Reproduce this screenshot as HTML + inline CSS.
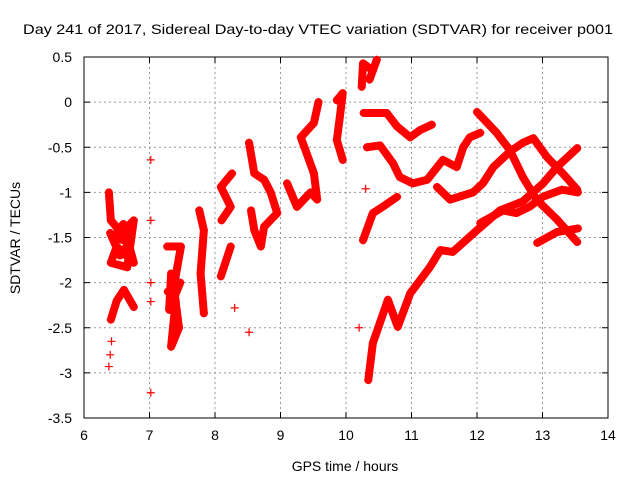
<!DOCTYPE html>
<html><head><meta charset="utf-8"><style>
body{margin:0;background:#fff}
svg{display:block;font-family:"Liberation Sans",sans-serif}
</style></head><body>
<svg id="chart" width="640" height="480" viewBox="0 0 640 480" xmlns="http://www.w3.org/2000/svg">
<rect width="640" height="480" fill="#fff"/>
<text x="318" y="34" font-size="14" text-anchor="middle" textLength="590" lengthAdjust="spacingAndGlyphs">Day 241 of 2017, Sidereal Day-to-day VTEC variation (SDTVAR) for receiver p001</text>
<g id="grid"></g>
<g id="axes"></g>
<g id="marks"></g>
<text x="345" y="471" font-size="14" text-anchor="middle">GPS time / hours</text>
<text transform="translate(20,238) rotate(-90)" font-size="14" text-anchor="middle">SDTVAR / TECUs</text>
</svg>
<script>
const xTicks=[6,7,8,9,10,11,12,13,14];
const yTicks=[0.5,0,-0.5,-1,-1.5,-2,-2.5,-3,-3.5];
const yTickLabels=["0.5","0","-0.5","-1","-1.5","-2","-2.5","-3","-3.5"];
// tracks: times (hours) and values (TECU)
const trA_t=[10.34,10.41,10.64,10.79,10.98,11.28,11.44,11.63,12.0,12.35,12.7,13.01,13.22,13.53];
const trA_v=[-3.08,-2.67,-2.19,-2.49,-2.12,-1.83,-1.64,-1.66,-1.42,-1.2,-1.1,-0.9,-0.72,-0.51];
const trB_t=[12.05,12.4,12.6,12.8,13.0,13.3,13.54];
const trB_v=[-1.34,-1.2,-1.23,-1.16,-1.05,-0.97,-1.0];
const trC_t=[12.0,12.3,12.5,12.7,12.91,13.22,13.53];
const trC_v=[-0.11,-0.34,-0.53,-0.83,-1.08,-1.3,-1.55];
const trD_t=[11.39,11.59,11.94,12.09,12.25,12.5,12.7,12.86,13.07,13.31,13.53];
const trD_v=[-0.94,-1.08,-1.0,-0.9,-0.72,-0.55,-0.45,-0.4,-0.61,-0.79,-0.97];
const trE_t=[12.92,13.22,13.54];
const trE_v=[-1.56,-1.44,-1.4];
const trF_t=[10.27,10.62,10.78,10.98,11.13,11.31];
const trF_v=[-0.12,-0.12,-0.27,-0.39,-0.31,-0.25];
const trG_t=[10.32,10.52,10.72,10.82,11.02,11.24,11.48,11.69,11.79,11.89,12.05];
const trG_v=[-0.5,-0.48,-0.68,-0.83,-0.9,-0.86,-0.64,-0.72,-0.5,-0.39,-0.34];
const trH_t=[10.26,10.41,10.56,10.78];
const trH_v=[-1.53,-1.23,-1.16,-1.05];
const trI_t=[10.24,10.26,10.41,10.47,10.36];
const trI_v=[0.17,0.43,0.35,0.47,0.25];
const trJ_t=[9.86,9.95,9.9,9.86,9.95];
const trJ_v=[0.02,0.1,-0.2,-0.42,-0.64];
const trK_t=[6.38,6.41,6.57,6.76,6.66,6.41,6.5,6.76,6.6,6.45,6.7,6.55,6.4];
const trK_v=[-1.0,-1.31,-1.45,-1.31,-1.83,-1.78,-1.6,-1.78,-1.35,-1.5,-1.55,-1.7,-1.45];
const trL_t=[6.41,6.5,6.61,6.76];
const trL_v=[-2.41,-2.2,-2.08,-2.27];
const trM_t=[7.27,7.48,7.37,7.45,7.33,7.4,7.33,7.3,7.47,7.28];
const trM_v=[-1.6,-1.6,-2.05,-2.5,-2.71,-2.2,-1.9,-2.3,-2.0,-2.1];
const trN_t=[7.76,7.83,7.78,7.83];
const trN_v=[-1.2,-1.42,-1.9,-2.34];
const trO_t=[8.26,8.09,8.24,8.1];
const trO_v=[-0.79,-0.94,-1.16,-1.31];
const trP_t=[8.09,8.24];
const trP_v=[-1.93,-1.6];
const trQ_t=[8.52,8.6,8.75,8.85,8.95,8.75,8.7,8.6,8.55];
const trQ_v=[-0.45,-0.79,-0.86,-1.0,-1.23,-1.38,-1.6,-1.42,-1.2];
const trR_t=[9.1,9.25,9.46,9.56,9.51,9.31,9.51,9.58];
const trR_v=[-0.9,-1.16,-1.0,-1.08,-0.79,-0.39,-0.23,0.0];
const single_t=[7.02,7.02,7.02,7.02,7.02,6.38,6.4,6.42,8.52,8.3,10.2,10.3];
const single_v=[-0.64,-1.31,-2.0,-2.21,-3.22,-2.93,-2.8,-2.65,-2.55,-2.28,-2.5,-0.96];
const tracks=[[trA_t,trA_v],[trB_t,trB_v],[trC_t,trC_v],[trD_t,trD_v],[trE_t,trE_v],[trF_t,trF_v],[trG_t,trG_v],[trH_t,trH_v],[trI_t,trI_v],[trJ_t,trJ_v],[trK_t,trK_v],[trL_t,trL_v],[trM_t,trM_v],[trN_t,trN_v],[trO_t,trO_v],[trP_t,trP_v],[trQ_t,trQ_v],[trR_t,trR_v]];

const L=84,R=608,T=57,B=418;
const xs=t=>L+(t-6)/8*(R-L);
const ys=v=>T+(0.5-v)/4*(B-T);
const NS="http://www.w3.org/2000/svg";
function mk(tag,attrs,parent){const e=document.createElementNS(NS,tag);for(const k in attrs)e.setAttribute(k,attrs[k]);parent.appendChild(e);return e;}
const grid=document.getElementById('grid'),axes=document.getElementById('axes'),marks=document.getElementById('marks');
xTicks.forEach(t=>{
  const x=xs(t);
  if(t>6&&t<14){const g=mk('line',{x1:x,x2:x,y1:T,y2:B,stroke:'#999','stroke-dasharray':'2,3'},grid);
  
  }
  mk('line',{x1:x,x2:x,y1:B,y2:B-6,stroke:'#000'},axes);
  mk('line',{x1:x,x2:x,y1:T,y2:T+6,stroke:'#000'},axes);
  const l=mk('text',{x:x,y:B+22,'font-size':14,'text-anchor':'middle'},axes);l.textContent=t;
  
  
});
yTicks.forEach((v,i)=>{
  const y=ys(v);
  if(i>0&&i<yTicks.length-1){const g=mk('line',{x1:L,x2:R,y1:y,y2:y,stroke:'#999','stroke-dasharray':'2,3'},grid);
  
  }
  mk('line',{x1:L,x2:L+6,y1:y,y2:y,stroke:'#000'},axes);
  mk('line',{x1:R,x2:R-6,y1:y,y2:y,stroke:'#000'},axes);
  const l=mk('text',{x:L-12,y:y+5,'font-size':14,'text-anchor':'end'},axes);l.textContent=yTickLabels[i];
  
  
});
const fr=mk('rect',{x:L,y:T,width:R-L,height:B-T,fill:'none',stroke:'#000'},axes);


function plus(x,y){mk('path',{d:`M${x-4} ${y}h8M${x} ${y-4}v8`,stroke:'#f00','stroke-width':1.2},marks);}
tracks.forEach(([tt,vv])=>{
  const pts=tt.map((t,i)=>xs(t)+','+ys(vv[i])).join(' ');
  const p=mk('polyline',{points:pts,fill:'none',stroke:'#f00','stroke-width':8,'stroke-linejoin':'round','stroke-linecap':'round'},marks);
  
  
  tt.forEach((t,i)=>plus(xs(t),ys(vv[i])));
});
single_t.forEach((t,i)=>plus(xs(t),ys(single_v[i])));
</script>
</body></html>
